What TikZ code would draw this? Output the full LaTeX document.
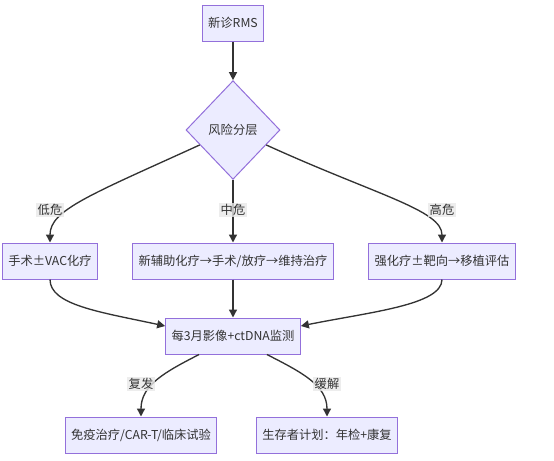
\documentclass[tikz,border=0pt]{standalone}
\usepackage{fontspec}
\setmainfont{Noto Sans CJK SC}
\usetikzlibrary{positioning}
\usetikzlibrary{calc}
\usetikzlibrary{shapes.geometric}
\usetikzlibrary{arrows.meta}
\definecolor{boxfill}{HTML}{ECECFF}
\definecolor{boxline}{HTML}{9370DB}
\definecolor{edgeline}{HTML}{333333}
\definecolor{labelfill}{HTML}{E8E8E8}

\begin{document}
\begin{tikzpicture}[x=0.75pt,y=-0.75pt,
    >={Triangle[length=6pt,width=6pt]},
    box/.style={draw=boxline,fill=boxfill,line width=0.75pt,rectangle,minimum height=27pt,inner xsep=4.5pt,font=\fontsize{9.2}{11}\selectfont,text=black!80},
    decision/.style={draw=boxline,fill=boxfill,line width=0.75pt,diamond,minimum width=70.5pt,minimum height=74pt,inner sep=0pt,font=\fontsize{9.2}{11}\selectfont,text=black!80},
    edgelabel/.style={fill=labelfill,fill opacity=0.8,text opacity=1,inner sep=1pt,font=\fontsize{9.2}{11}\selectfont,text=black!80},
    flow/.style={->,draw=edgeline,line width=1pt}]
          \useasboundingbox (0,0) rectangle (554,461);
          \node (start) [box] at (233,23) {新诊RMS};
          \node (risk) [decision] at (233,130) {风险分层};
          \node (low) [box] at (50,261) {手术±VAC化疗};
          \node (mid) [box] at (233,261) {新辅助化疗→手术/放疗→维持治疗};
          \node (high) [box] at (442,261) {强化疗±靶向→移植评估};
          \node (monitor) [box] at (233,336) {每3月影像+ctDNA监测};
          \node (relapse) [box] at (141,435) {免疫治疗/CAR-T/临床试验};
          \node (remission) [box] at (327,435) {生存者计划：年检+康复};
          \coordinate (riskleft) at ($(risk.west)!0.3!(risk.south)$);
          \coordinate (riskright) at ($(risk.east)!0.3!(risk.south)$);
          \coordinate (monleft) at ($(monitor.south west)!0.25!(monitor.south east)$);
          \coordinate (monright) at ($(monitor.south west)!0.75!(monitor.south east)$);
          \draw [flow] (start.south) to (risk.north);
          \draw [flow] (riskleft) .. controls (90,195) and (50,210) .. (low.north);
          \draw [flow] (risk.south) to (mid.north);
          \draw [flow] (riskright) .. controls (376,195) and (442,210) .. (high.north);
          \draw [flow] (low.south) .. controls (50,305) and (100,312) .. ($(monitor.west)+(0,-10)$);
          \draw [flow] (mid.south) to (monitor.north);
          \draw [flow] (high.south) .. controls (442,305) and (370,312) .. ($(monitor.east)+(0,-10)$);
          \draw [flow] (monleft) .. controls (165,372) and (141,385) .. (relapse.north);
          \draw [flow] (monright) .. controls (301,372) and (327,385) .. (remission.north);
          \node (lowlabel) [edgelabel] at (50,210) {低危};
          \node (midlabel) [edgelabel] at (233,210) {中危};
          \node (highlabel) [edgelabel] at (442,210) {高危};
          \node (relapselabel) [edgelabel] at (141,384) {复发};
          \node (remissionlabel) [edgelabel] at (327,384) {缓解};
        \end{tikzpicture}
\end{document}
